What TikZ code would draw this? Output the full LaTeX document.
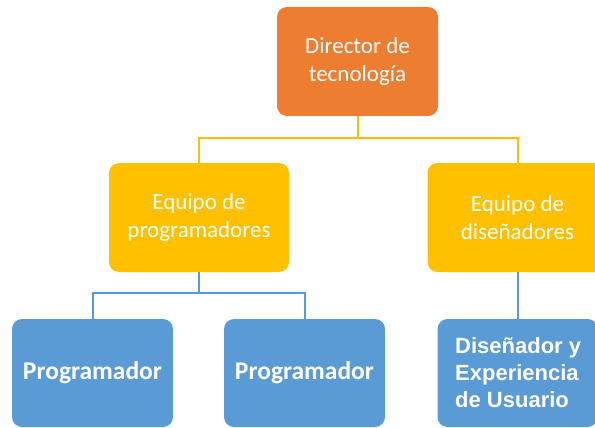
\documentclass[tikz,border=0pt]{standalone}
\usepackage{fontspec}
\setmainfont{Carlito}
\newfontfamily\arialb{Liberation Sans}[BoldFont={Liberation Sans Bold}]
\definecolor{orgc}{HTML}{ED7D31}
\definecolor{goldc}{HTML}{FFC000}
\definecolor{bluec}{HTML}{5B9BD5}
\tikzset{
  boxbase/.style={rectangle, rounded corners=10pt, text=white, inner sep=0pt, align=center},
  topbox/.style={boxbase, fill=orgc, minimum width=161pt, minimum height=109pt, font=\fontsize{23}{27.5}\selectfont},
  midbox/.style={boxbase, fill=goldc, minimum width=180pt, minimum height=109pt, font=\fontsize{23}{27.5}\selectfont},
  lowbox/.style={boxbase, fill=bluec, minimum width=161pt, minimum height=108pt, font=\bfseries\fontsize{25.5}{30}\selectfont},
  uxtext/.style={text=white, inner sep=0pt, align=left, anchor=west, font=\arialb\bfseries\fontsize{22}{27}\selectfont},
  goldline/.style={draw=goldc, line width=2pt},
  blueline/.style={draw=bluec, line width=2pt}
}
\begin{document}
\begin{tikzpicture}[x=1pt,y=-1pt]
\useasboundingbox (0,0) rectangle (595,428);
\clip (0,0) rectangle (595,428);
\node[topbox] (top) at (357.5,61.5) {Director de\\tecnología};
\node[midbox] (lg) at (199,217.5) {Equipo de\\programadores};
\node[midbox] (rg) at (517.5,217.5) {Equipo de\\diseñadores};
\node[lowbox] (p1) at (92.5,373) {Programador};
\node[lowbox] (p2) at (304.5,373) {Programador};
\node[lowbox, minimum width=160pt] (ux) at (517.5,373) {};
\node[uxtext] (uxt) at (455,373) {Diseñador y\\Experiencia\\de Usuario};
\coordinate (b1) at (0,138);
\coordinate (b2) at (0,293);
\draw[goldline] (top.south) -- (top.south |- b1) -| (lg.north);
\draw[goldline] (top.south |- b1) -| (rg.north);
\draw[blueline] (lg.south) -- (lg.south |- b2) -| (p1.north);
\draw[blueline] (lg.south |- b2) -| (p2.north);
\draw[blueline] (rg.south) -- (ux.north);
\end{tikzpicture}
\end{document}
